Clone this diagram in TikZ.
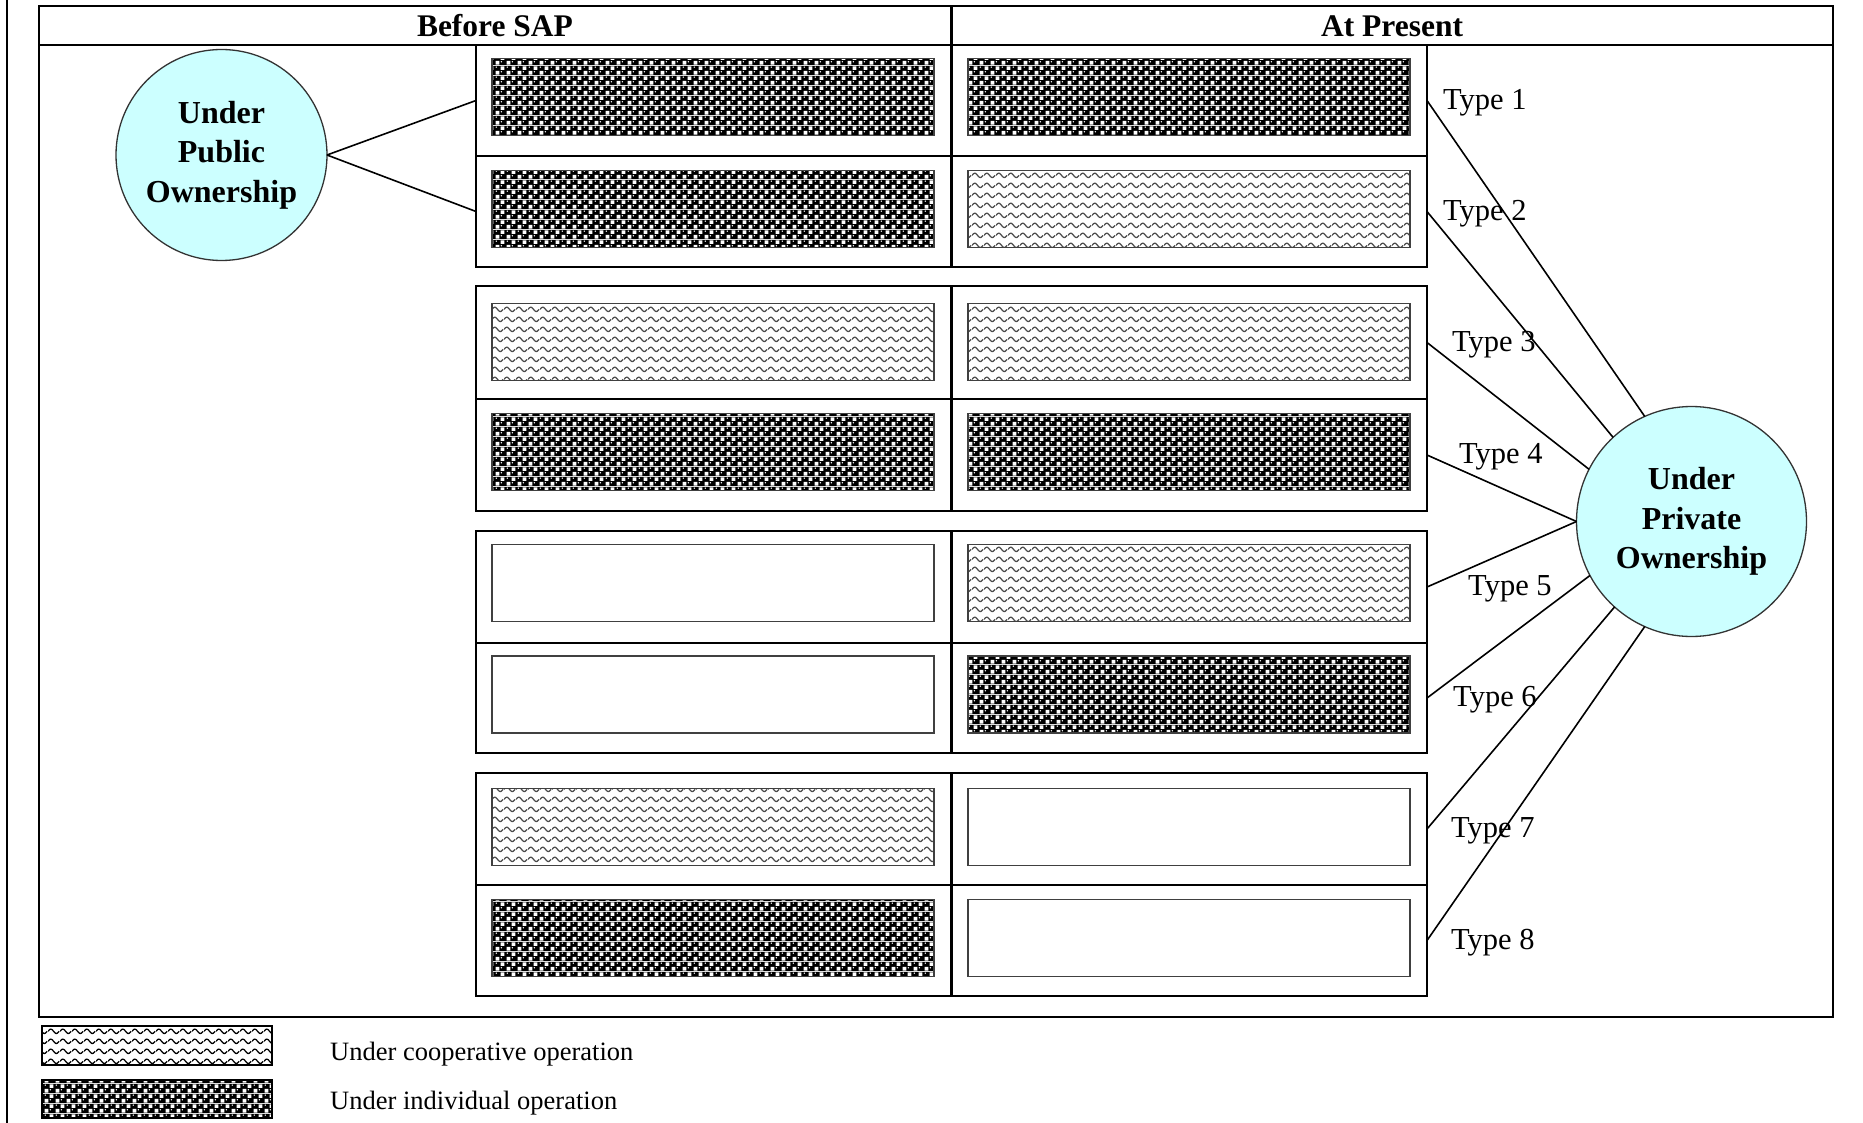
\documentclass[tikz,border=0pt]{standalone}
\usepackage{fontspec}
\setmainfont{Liberation Serif}
\usetikzlibrary{patterns.meta}

% checker of black pebbles and white squares: individual operation
\tikzdeclarepattern{
  name=pebbles, type=colored,
  bottom left={(0pt,0pt)}, top right={(11pt,9.5pt)}, tile size={(11pt,9.5pt)},
  code={
    \tikzset{x=1pt,y=1pt}
    \fill[black] (0,0) rectangle (11,9.5);
    \fill[white] (0.7,0.5) rectangle (4.8,4.2);
    \fill[white] (6.2,5.3) rectangle (10.3,9.0);
    \fill[white] (6.9,3.4) circle [radius=0.85];
    \fill[white] (1.4,8.2) circle [radius=0.85];
  }
}

% wavy lines: cooperative operation
\tikzdeclarepattern{
  name=waves, type=uncolored,
  bottom left={(0pt,0pt)}, top right={(12pt,9.6pt)}, tile size={(12pt,9.6pt)},
  code={
    \tikzset{x=1pt,y=1pt}
    \draw[line width=1.3pt] plot[domain=0:12,samples=25,smooth] (\x,{4.8+2.2*sin(30*\x)});
  }
}

\definecolor{ownfill}{HTML}{CCFFFF}

\tikzset{
  frame/.style={line width=2.8pt},
  rowbox/.style={draw, line width=2.8pt, minimum width=951pt, minimum height=#1,
    inner sep=0pt, outer sep=0pt},
  cell/.style={draw=black!75, line width=1.3pt, minimum width=442pt, minimum height=77pt,
    inner sep=0pt, outer sep=0pt},
  cellind/.style={cell, pattern=pebbles},
  cellcoop/.style={cell, pattern=waves, pattern color=black!70},
  cellblank/.style={cell, fill=white},
  owner/.style={circle, draw=black!80, line width=1.3pt, fill=ownfill, inner sep=0pt,
    outer sep=0pt, align=center, font=\bfseries\fontsize{32}{39.5}\selectfont},
  conn/.style={line width=1.6pt},
  typelabel/.style={anchor=west, inner sep=0pt, font=\fontsize{30.5}{36}\selectfont},
  header/.style={inner sep=0pt, font=\bfseries\fontsize{31.5}{36}\selectfont},
  legbox/.style={draw, line width=2pt, minimum width=230pt, minimum height=38.5pt,
    inner sep=0pt, outer sep=0pt},
  legtext/.style={anchor=west, inner sep=0pt, font=\fontsize{26.5}{30}\selectfont},
}

\begin{document}
\begin{tikzpicture}[x=1pt, y=-1pt]
  \fill[white] (0,0) rectangle (1863,1123);
  \useasboundingbox (0,0) rectangle (1863,1123);

  % page margin line
  \draw[line width=2.5pt] (7,0) -- (7,1123);

  % table frame and header
  \draw[frame] (39,6) rectangle (1833,1017);
  \draw[frame] (39,45) -- (1833,45);
  \draw[frame] (951.5,6) -- (951.5,45);
  \node[header] (hbefore) at (495,26) {Before SAP};
  \node[header] (hnow) at (1392,26) {At Present};

  % rows of the four groups
  \node[rowbox=111pt] (r1) at (951.5,100.5) {};
  \node[rowbox=111pt] (r2) at (951.5,211.5) {};
  \node[rowbox=113pt] (r3) at (951.5,342.5) {};
  \node[rowbox=112pt] (r4) at (951.5,455) {};
  \node[rowbox=112pt] (r5) at (951.5,587) {};
  \node[rowbox=110pt] (r6) at (951.5,698) {};
  \node[rowbox=112pt] (r7) at (951.5,829) {};
  \node[rowbox=111pt] (r8) at (951.5,940.5) {};
  \draw[frame] (r1.north) -- (r2.south);
  \draw[frame] (r3.north) -- (r4.south);
  \draw[frame] (r5.north) -- (r6.south);
  \draw[frame] (r7.north) -- (r8.south);

  % cells: before SAP
  \node[cellind]   (b1) at (713,97)    {};
  \node[cellind]   (b2) at (713,209)   {};
  \node[cellcoop]  (b3) at (713,342)   {};
  \node[cellind]   (b4) at (713,452)   {};
  \node[cellblank] (b5) at (713,583)   {};
  \node[cellblank] (b6) at (713,694.5) {};
  \node[cellcoop]  (b7) at (713,827)   {};
  \node[cellind]   (b8) at (713,938)   {};
  % cells: at present
  \node[cellind]   (p1) at (1189,97)    {};
  \node[cellcoop]  (p2) at (1189,209)   {};
  \node[cellcoop]  (p3) at (1189,342)   {};
  \node[cellind]   (p4) at (1189,452)   {};
  \node[cellcoop]  (p5) at (1189,583)   {};
  \node[cellind]   (p6) at (1189,694.5) {};
  \node[cellblank] (p7) at (1189,827)   {};
  \node[cellblank] (p8) at (1189,938)   {};

  % type labels
  \node[typelabel] (t1) at (1443,102.5) {Type 1};
  \node[typelabel] (t2) at (1443,213.5) {Type 2};
  \node[typelabel] (t3) at (1452,344.5) {Type 3};
  \node[typelabel] (t4) at (1459,457)   {Type 4};
  \node[typelabel] (t5) at (1468,589)   {Type 5};
  \node[typelabel] (t6) at (1453,700)   {Type 6};
  \node[typelabel] (t7) at (1451,831)   {Type 7};
  \node[typelabel] (t8) at (1451,942.5) {Type 8};

  % ownership circles
  \node[owner, minimum size=211pt] (pub) at (221.5,155) {Under\\Public\\Ownership};
  \node[owner, minimum size=230pt] (priv) at (1691.5,521.5) {Under\\Private\\Ownership};

  % connectors
  \draw[conn] (pub.east) -- (r1.west);
  \draw[conn] (pub.east) -- (r2.west);
  \draw[conn] (r1.east) -- (priv.114);
  \draw[conn] (r2.east) -- (priv.133);
  \draw[conn] (r3.east) -- (priv.153);
  \draw[conn] (r4.east) -- (priv.180);
  \draw[conn] (r5.east) -- (priv.180);
  \draw[conn] (r6.east) -- (priv.208);
  \draw[conn] (r7.east) -- (priv.228);
  \draw[conn] (r8.east) -- (priv.246);

  % legend
  \node[legbox, pattern=waves, pattern color=black] (lcoop) at (157,1045.5) {};
  \node[legbox, pattern=pebbles] (lind) at (157,1099) {};
  \node[legtext] (lcooptext) at (330,1054) {Under cooperative operation};
  \node[legtext] (lindtext) at (330,1103) {Under individual operation};
\end{tikzpicture}
\end{document}
